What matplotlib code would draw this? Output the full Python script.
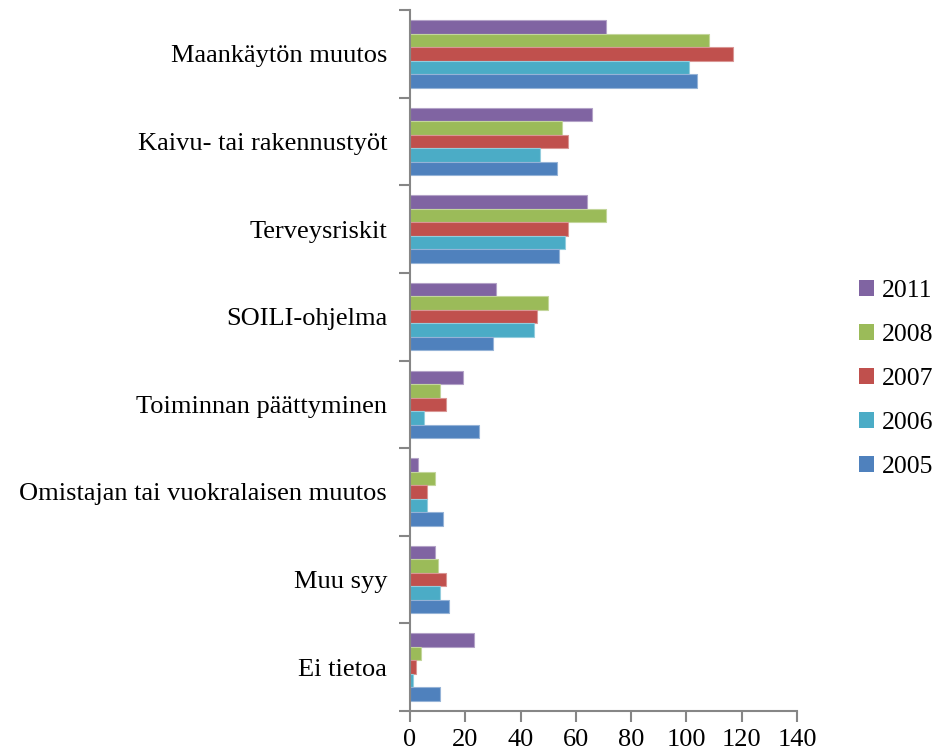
import matplotlib
matplotlib.use("Agg")
import matplotlib.pyplot as plt
import numpy as np

categories = ["Maankäytön muutos", "Kaivu- tai rakennustyöt", "Terveysriskit",
              "SOILI-ohjelma", "Toiminnan päättyminen",
              "Omistajan tai vuokralaisen muutos", "Muu syy", "Ei tietoa"]
years = ["2011", "2008", "2007", "2006", "2005"]
v2011 = [71, 66, 64, 31, 19, 3, 9, 23]
v2008 = [108, 55, 71, 50, 11, 9, 10, 4]
v2007 = [117, 57, 57, 46, 13, 6, 13, 2]
v2006 = [101, 47, 56, 45, 5, 6, 11, 1]
v2005 = [104, 53, 54, 30, 25, 12, 14, 11]
series = [v2011, v2008, v2007, v2006, v2005]
colors = ["#8064A2", "#9BBB59", "#C0504D", "#4BACC6", "#4F81BD"]
edges = ["#B3A2C7", "#C3D69B", "#D99694", "#93CDDD", "#95B3D7"]

plt.rcParams['font.family'] = ['Liberation Serif', 'DejaVu Serif']

fig = plt.figure(figsize=(9.45, 7.53), dpi=100)
ax = fig.add_axes([410/945, 1-711/753, (797-410)/945, (711-10)/753])

n = len(categories)
y = np.arange(n)
h = 0.77 / 5
handles = []
for k, (vals, c, ec, yr) in enumerate(zip(series, colors, edges, years)):
    b = ax.barh(y + (k - 2) * h, vals, height=h, color=c, edgecolor=ec,
                linewidth=0.8, label=yr)
    handles.append(b)

ax.set_xlim(0, 140)
ax.set_ylim(n - 0.5, -0.5)
ax.set_xticks(np.arange(0, 141, 20))
ax.set_yticks(y)
ax.set_yticklabels(categories)
ax.set_yticks(np.arange(-0.5, n, 1), minor=True)
ax.tick_params(axis='y', which='major', length=0, pad=16.5, labelsize=19)
ax.tick_params(axis='y', which='minor', length=8, width=1.5, color='#868686', direction='out')
ax.tick_params(axis='x', which='major', length=8, width=1.5, color='#868686',
               direction='out', labelsize=19, pad=5)
for s in ['top', 'right']:
    ax.spines[s].set_visible(False)
for s in ['left', 'bottom']:
    ax.spines[s].set_color('#868686')
    ax.spines[s].set_linewidth(1.5)

leg = fig.legend(handles=handles, labels=years, loc='center left',
                 bbox_to_anchor=(859/945, 1-379/753), frameon=False,
                 fontsize=18.5, handlelength=0.6, handleheight=0.6,
                 handletextpad=0.3, labelspacing=0.85, borderpad=0,
                 borderaxespad=0)
for p in leg.get_patches():
    p.set_edgecolor('none')

fig.savefig("out.png", dpi=100)
